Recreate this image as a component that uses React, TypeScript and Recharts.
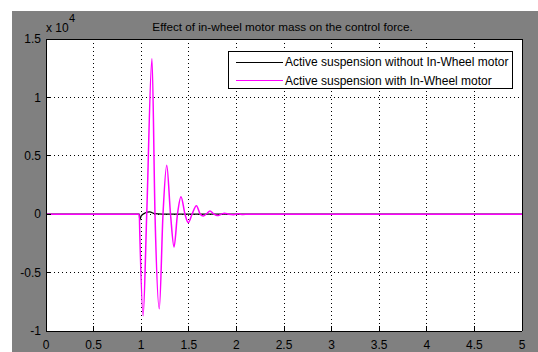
import { LineChart, Line, XAxis, YAxis, CartesianGrid, Legend } from "recharts";

const font = "'Liberation Sans', Arial, Helvetica, sans-serif";

// time axis (s) and control force axis (N)
const xTicks = [0, 0.5, 1, 1.5, 2, 2.5, 3, 3.5, 4, 4.5, 5];
const yTicks = [-10000, -5000, 0, 5000, 10000, 15000];

// Active suspension without in-wheel motor
const timeWithout = [0, 0.98, 0.985, 1.0, 1.04, 1.09, 1.14, 1.3, 5];
const forceWithout = [0, 0, -500, -150, 100, 200, 50, 0, 0];

// Active suspension with in-wheel motor
const timeWith = [
  0, 0.98, 0.985, 1.02, 1.058, 1.113, 1.145, 1.19, 1.229, 1.268, 1.308, 1.345,
  1.381, 1.418, 1.46, 1.495, 1.534, 1.58, 1.62, 1.652, 1.688, 1.723, 1.76, 1.8,
  1.84, 1.875, 1.92, 1.97, 2.02, 2.07, 2.12, 5,
];
const forceWith = [
  0, 0, -1600, -8700, 0, 13300, 0, -8100, 0, 4200, 0, -2800, 0, 1500, 0, -730,
  0, 730, 0, -150, 40, 270, 30, -120, 0, 80, 0, -40, 30, -20, 0, 0,
];

const seriesNames = [
  "Active suspension without In-Wheel motor",
  "Active suspension with In-Wheel motor",
];
const seriesColors = ["#000000", "#ff00ff"];

const title = "Effect of in-wheel motor mass on the control force.";

const withoutData = timeWithout.map((t, i) => ({ t, f: forceWithout[i] }));
const withData = timeWith.map((t, i) => ({ t, f: forceWith[i] }));

const crisp = { stroke: "#000", shapeRendering: "crispEdges" } as const;
const tickText = { fill: "#000", fontSize: 12, fontFamily: font };

function LegendBox() {
  return (
    <svg width={285} height={38} style={{ display: "block" }}>
      <rect x={0.5} y={0.5} width={284} height={37} fill="#fff" stroke="#000" shapeRendering="crispEdges" />
      {seriesNames.map((name, i) => (
        <g key={name}>
          <line x1={8} x2={55} y1={11.5 + i * 18} y2={11.5 + i * 18} stroke={seriesColors[i]} />
          <text x={57} y={14.7 + i * 19} fontSize={12} fontFamily={font} fill="#000">
            {name}
          </text>
        </g>
      ))}
    </svg>
  );
}

export default function App() {
  return (
    <div
      style={{
        position: "absolute",
        left: 12,
        top: 11,
        width: 526,
        height: 341,
        background: "#808080",
        fontFamily: font,
      }}
    >
      <LineChart width={526} height={341} margin={{ top: 0, right: 0, bottom: 0, left: 0 }}>
        <CartesianGrid
          stroke="#000"
          strokeDasharray="1 3"
          fill="#fff"
          fillOpacity={1}
          shapeRendering="crispEdges"
        />
        <XAxis
          dataKey="t"
          type="number"
          domain={[0, 5]}
          ticks={xTicks}
          interval={0}
          height={21}
          tickSize={-5}
          tickMargin={14}
          axisLine={crisp}
          tickLine={crisp}
          tick={tickText}
          tickFormatter={(v: number) => String(v)}
          allowDataOverflow
        />
        <XAxis
          xAxisId="top"
          orientation="top"
          dataKey="t"
          type="number"
          domain={[0, 5]}
          ticks={xTicks}
          interval={0}
          height={28}
          tickSize={-5}
          axisLine={crisp}
          tickLine={crisp}
          tickFormatter={() => ""}
        />
        <YAxis
          type="number"
          domain={[-10000, 15000]}
          ticks={yTicks}
          interval={0}
          width={34}
          tickSize={-5}
          tickMargin={10}
          axisLine={crisp}
          tickLine={crisp}
          tick={tickText}
          tickFormatter={(v: number) => String(v / 10000)}
          allowDataOverflow
        />
        <YAxis
          yAxisId="right"
          orientation="right"
          type="number"
          domain={[-10000, 15000]}
          ticks={yTicks}
          interval={0}
          width={16}
          tickSize={-5}
          axisLine={crisp}
          tickLine={crisp}
          tickFormatter={() => ""}
        />
        <Legend
          layout="vertical"
          align="center"
          verticalAlign="middle"
          content={() => <LegendBox />}
          wrapperStyle={{ position: "absolute", left: 216, top: 40, width: 285, height: 38 }}
        />
        <Line
          data={withoutData}
          dataKey="f"
          name={seriesNames[0]}
          type="monotone"
          stroke={seriesColors[0]}
          strokeWidth={1.3}
          dot={false}
          isAnimationActive={false}
        />
        <Line
          data={withData}
          dataKey="f"
          name={seriesNames[1]}
          type="monotone"
          stroke={seriesColors[1]}
          strokeWidth={1.5}
          dot={false}
          isAnimationActive={false}
        />
      </LineChart>
      <svg
        width={526}
        height={341}
        style={{ position: "absolute", left: 0, top: 0, pointerEvents: "none" }}
      >
        <text x={270.5} y={19.7} textAnchor="middle" fontSize={11.7} fontFamily={font} fill="#000">
          {title}
        </text>
        <text x={34} y={21.3} fontSize={12} fontFamily={font} fill="#000">
          x 10
        </text>
        <text x={57} y={11.3} fontSize={11} fontFamily={font} fill="#000">
          4
        </text>
      </svg>
    </div>
  );
}
